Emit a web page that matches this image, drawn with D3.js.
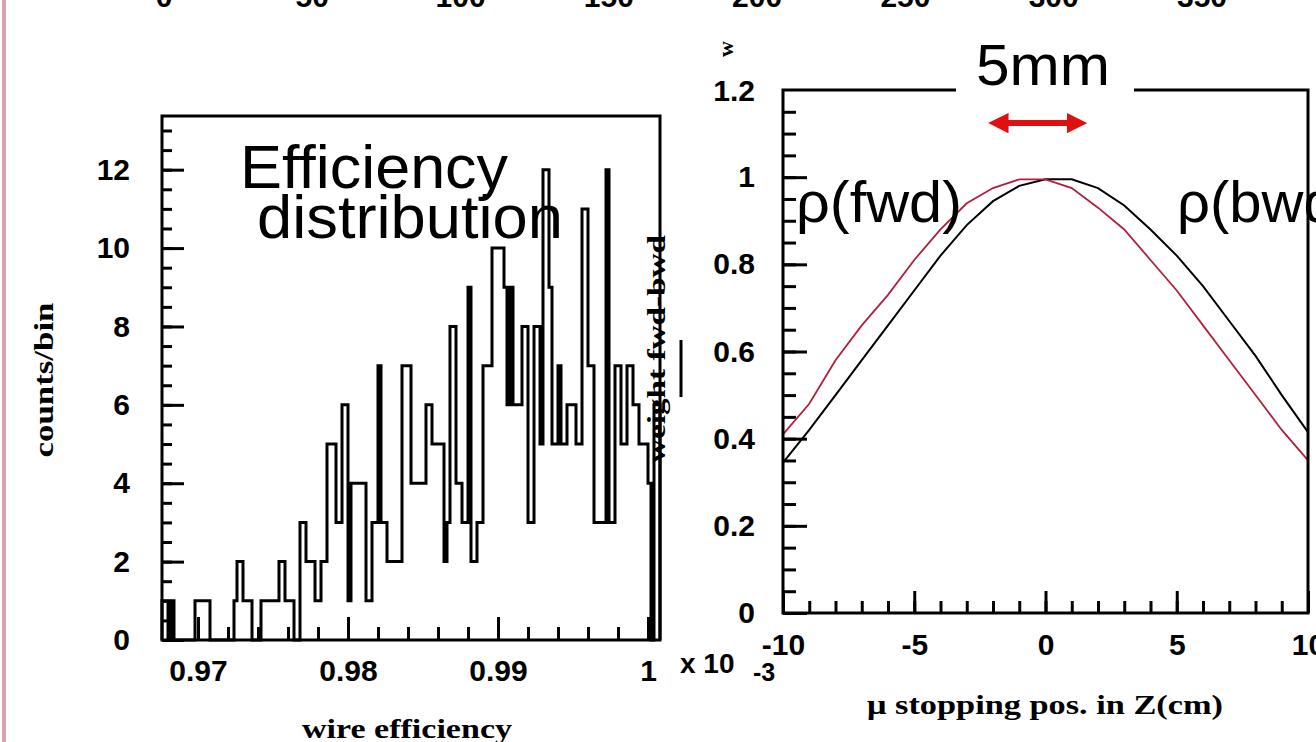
<!DOCTYPE html>
<html><head><meta charset="utf-8">
<script src="https://cdn.jsdelivr.net/npm/d3@7"></script>
<style>body{margin:0;background:#fff;} svg{display:block;}</style>
</head><body>
<svg id="c" width="1316" height="742"></svg>
<script>
// ---------- data ----------
const histStart = 0.9676;
const histBinWidth = 0.0002;
const histCounts = [
  1,1,0,1, 0,0,0,0,0,0,0, 1,1,1,1,1, 0,0,0,0,0,0,0,0,
  1,2,2,1,1,1, 0,0,0, 1,1,1,1,1,1, 2,2, 1,1,1, 0,0, 3,3, 2,2,2, 1,1, 2,2,
  5,5,5, 3,3, 6,6, 1, 4,4,4,4,4, 1,1, 3,3, 7, 3,3, 2,2,2,2,2, 7,7,7,
  4,4,4,4,4, 6,6, 5,5,5,5, 2, 3, 8,8, 4,4, 3,3, 9, 2,2, 3,3, 7,7,7,
  10,10,10,10, 9, 6, 9, 6,6,6, 8,8, 3,3, 8,8, 5, 12,12, 9, 5,5, 7, 5,5,
  6,6,6, 5,5, 11,11, 7,7, 3,3,3,3, 12, 3,3, 7,7, 5,5, 7,7, 6,6, 5,5,5, 4, 0, 6,6
];
const effTicks = [0.97, 0.98, 0.99, 1.0];
const effTickLabels = ["0.97", "0.98", "0.99", "1"];
const countTicks = [0, 2, 4, 6, 8, 10, 12];

const zPos   = [-10,-9,-8,-7,-6,-5,-4,-3,-2,-1,0,1,2,3,4,5,6,7,8,9,10];
const rhoFwd = [0.41,0.48,0.58,0.66,0.73,0.81,0.88,0.94,0.975,0.995,0.995,0.975,0.93,0.88,0.81,0.74,0.66,0.58,0.50,0.42,0.35];
const rhoBwd = [0.345,0.42,0.50,0.58,0.66,0.74,0.82,0.89,0.945,0.98,0.995,0.995,0.975,0.935,0.88,0.82,0.75,0.67,0.59,0.50,0.415];
const zTicks = [-10, -5, 0, 5, 10];
const zTickLabels = ["-10", "-5", "0", "5", "10"];
const rhoTicks = [0, 0.2, 0.4, 0.6, 0.8, 1.0, 1.2];
const rhoTickLabels = ["0", "0.2", "0.4", "0.6", "0.8", "1", "1.2"];
const topTicks = [0, 50, 100, 150, 200, 250, 300, 350];
const arrowSpan = [-2.1, 1.5];
const arrowRho = 1.124;

// ---------- setup ----------
const svg = d3.select("#c");
const SANS = "'Liberation Sans', Arial, sans-serif";
const SERIF = "'Liberation Serif', 'Times New Roman', serif";

// pink slide border
svg.append("rect").attr("x", 2).attr("y", 0).attr("width", 4).attr("height", 742).attr("fill", "#dba3ab");

// top cut-off axis labels (previous chart on the slide)
const xTop = d3.scaleLinear().domain([0, 350]).range([164, 1202]);
svg.append("g").selectAll("text").data(topTicks).join("text")
  .attr("x", d => xTop(d)).attr("y", 7)
  .attr("text-anchor", "middle").attr("font-family", SANS).attr("font-weight", "bold")
  .attr("font-size", 30).text(d => d);

// ---------- left: histogram ----------
const xEff = d3.scaleLinear().domain([histStart, histStart + histCounts.length * histBinWidth]).range([162, 660]);
const yCnt = d3.scaleLinear().domain([0, 13.37]).range([640, 116]);

const gL = svg.append("g");
gL.append("g").attr("transform", "translate(162,0)")
  .call(d3.axisLeft(yCnt).tickValues(d3.range(0, 13.01, 0.5)).tickSize(-10).tickFormat(""))
  .call(g => g.select(".domain").remove())
  .call(g => g.selectAll("line").attr("stroke", "#000").attr("stroke-width", 3));
gL.append("g").attr("transform", "translate(162,0)")
  .call(d3.axisLeft(yCnt).tickValues(countTicks).tickSize(-22).tickPadding(32).tickFormat(d => String(d)))
  .call(g => g.select(".domain").remove())
  .call(g => g.selectAll("line").attr("stroke", "#000").attr("stroke-width", 3))
  .call(g => g.selectAll("text").attr("font-family", SANS).attr("font-weight", "bold").attr("font-size", 30).attr("fill", "#000"));
gL.append("g").attr("transform", "translate(0,640)")
  .call(d3.axisBottom(xEff).tickValues(d3.range(0.968, 1.0005, 0.002)).tickSize(-13).tickFormat(""))
  .call(g => g.select(".domain").remove())
  .call(g => g.selectAll("line").attr("stroke", "#000").attr("stroke-width", 3));
gL.append("g").attr("transform", "translate(0,640)")
  .call(d3.axisBottom(xEff).tickValues(effTicks).tickSize(-23).tickPadding(20).tickFormat((d, i) => effTickLabels[i]))
  .call(g => g.select(".domain").remove())
  .call(g => g.selectAll("line").attr("stroke", "#000").attr("stroke-width", 3))
  .call(g => g.selectAll("text").attr("font-family", SANS).attr("font-weight", "bold").attr("font-size", 30).attr("fill", "#000"));

const histPts = [[histStart, 0]]
  .concat(histCounts.map((c, i) => [histStart + i * histBinWidth, c]))
  .concat([[histStart + histCounts.length * histBinWidth, 0]]);
gL.append("path").datum(histPts)
  .attr("d", d3.line().x(d => xEff(d[0])).y(d => yCnt(d[1])).curve(d3.curveStepAfter))
  .attr("fill", "none").attr("stroke", "#000").attr("stroke-width", 3);

gL.append("rect").attr("x", 162).attr("y", 116).attr("width", 498).attr("height", 524)
  .attr("fill", "none").attr("stroke", "#000").attr("stroke-width", 3);

gL.append("text").attr("x", 240).attr("y", 188).attr("font-family", SANS).attr("font-size", 61)
  .attr("textLength", 268).attr("lengthAdjust", "spacingAndGlyphs").text("Efficiency");
gL.append("text").attr("x", 257).attr("y", 238).attr("font-family", SANS).attr("font-size", 61)
  .attr("textLength", 306).attr("lengthAdjust", "spacingAndGlyphs").text("distribution");
gL.append("text").attr("transform", "translate(53,380) rotate(-90)").attr("text-anchor", "middle")
  .attr("font-family", SERIF).attr("font-weight", "bold").attr("font-size", 28)
  .attr("textLength", 155).attr("lengthAdjust", "spacingAndGlyphs").text("counts/bin");
gL.append("text").attr("x", 407).attr("y", 738).attr("text-anchor", "middle")
  .attr("font-family", SERIF).attr("font-weight", "bold").attr("font-size", 28)
  .attr("textLength", 210).attr("lengthAdjust", "spacingAndGlyphs").text("wire efficiency");
gL.append("text").attr("x", 680).attr("y", 673).attr("font-family", SANS).attr("font-weight", "bold").attr("font-size", 28).text("x 10");
gL.append("text").attr("x", 753).attr("y", 681).attr("font-family", SANS).attr("font-weight", "bold").attr("font-size", 25).text("-3");

// ---------- right: rho curves ----------
const xZ = d3.scaleLinear().domain([-10, 10]).range([783, 1308]);
const yRho = d3.scaleLinear().domain([0, 1.2]).range([613, 90]);
const gR = svg.append("g");

gR.append("g").attr("transform", "translate(783,0)")
  .call(d3.axisLeft(yRho).tickValues(d3.range(0, 1.16, 0.05)).tickSize(-13).tickFormat(""))
  .call(g => g.select(".domain").remove())
  .call(g => g.selectAll("line").attr("stroke", "#000").attr("stroke-width", 3));
gR.append("g").attr("transform", "translate(783,0)")
  .call(d3.axisLeft(yRho).tickValues(rhoTicks.slice(0, 6)).tickSize(-24).tickPadding(28).tickFormat((d, i) => rhoTickLabels[i]))
  .call(g => g.select(".domain").remove())
  .call(g => g.selectAll("line").attr("stroke", "#000").attr("stroke-width", 3))
  .call(g => g.selectAll("text").attr("font-family", SANS).attr("font-weight", "bold").attr("font-size", 30).attr("fill", "#000"));
gR.append("text").attr("x", 755).attr("y", yRho(1.2) + 11).attr("text-anchor", "end")
  .attr("font-family", SANS).attr("font-weight", "bold").attr("font-size", 30).text(rhoTickLabels[6]);
gR.append("g").attr("transform", "translate(0,613)")
  .call(d3.axisBottom(xZ).tickValues(d3.range(-9, 10, 1)).tickSize(-12).tickFormat(""))
  .call(g => g.select(".domain").remove())
  .call(g => g.selectAll("line").attr("stroke", "#000").attr("stroke-width", 3));
gR.append("g").attr("transform", "translate(0,613)")
  .call(d3.axisBottom(xZ).tickValues(zTicks).tickSize(-22).tickPadding(21).tickFormat((d, i) => zTickLabels[i]))
  .call(g => g.select(".domain").remove())
  .call(g => g.selectAll("line").attr("stroke", "#000").attr("stroke-width", 3))
  .call(g => g.selectAll("text").attr("font-family", SANS).attr("font-weight", "bold").attr("font-size", 30).attr("fill", "#000"));

const lineGen = vals => d3.line().x((d, i) => xZ(zPos[i])).y(d => yRho(d))(vals);
gR.append("path").attr("d", lineGen(rhoBwd)).attr("fill", "none").attr("stroke", "#000").attr("stroke-width", 2);
gR.append("path").attr("d", lineGen(rhoFwd)).attr("fill", "none").attr("stroke", "#b0203c").attr("stroke-width", 1.8);

gR.append("rect").attr("x", 783).attr("y", 90).attr("width", 525).attr("height", 523)
  .attr("fill", "none").attr("stroke", "#000").attr("stroke-width", 3);

// 5mm label with white box
gR.append("rect").attr("x", 956).attr("y", 36).attr("width", 178).attr("height", 62).attr("fill", "#fff");
gR.append("text").attr("x", 1043).attr("y", 85).attr("text-anchor", "middle").attr("font-family", SANS).attr("font-size", 58)
  .attr("textLength", 134).attr("lengthAdjust", "spacingAndGlyphs").text("5mm");

// red double arrow
const defs = svg.append("defs");
defs.append("marker").attr("id", "ah").attr("viewBox", "0 0 10 10").attr("refX", 4).attr("refY", 5)
  .attr("markerWidth", 3.4).attr("markerHeight", 3.4).attr("orient", "auto-start-reverse")
  .append("path").attr("d", "M0,0 L10,5 L0,10 z").attr("fill", "#e01010");
gR.append("line").attr("x1", xZ(arrowSpan[0]) + 10).attr("x2", xZ(arrowSpan[1]) - 10)
  .attr("y1", yRho(arrowRho)).attr("y2", yRho(arrowRho))
  .attr("stroke", "#e01010").attr("stroke-width", 6)
  .attr("marker-start", "url(#ah)").attr("marker-end", "url(#ah)");

gR.append("text").attr("x", 796).attr("y", 222).attr("font-family", SANS).attr("font-size", 58)
  .attr("textLength", 166).attr("lengthAdjust", "spacingAndGlyphs").text("ρ(fwd)");
gR.append("text").attr("x", 1177).attr("y", 222).attr("font-family", SANS).attr("font-size", 58).text("ρ(bwd)");

gR.append("text").attr("x", 1045).attr("y", 714).attr("text-anchor", "middle")
  .attr("font-family", SERIF).attr("font-weight", "bold").attr("font-size", 28)
  .attr("textLength", 356).attr("lengthAdjust", "spacingAndGlyphs").text("μ stopping pos. in Z(cm)");
gR.append("text").attr("transform", "translate(665,349) rotate(-90)").attr("text-anchor", "middle")
  .attr("font-family", SERIF).attr("font-weight", "bold").attr("font-size", 25)
  .attr("textLength", 228).attr("lengthAdjust", "spacingAndGlyphs").text("weight fwd-bwd");
gR.append("line").attr("x1", 681).attr("x2", 681).attr("y1", 340).attr("y2", 397)
  .attr("stroke", "#000").attr("stroke-width", 3);
gR.append("text").attr("transform", "translate(733,49) rotate(-90)").attr("text-anchor", "middle")
  .attr("font-family", SERIF).attr("font-weight", "bold").attr("font-size", 22).text("w");
</script>
</body></html>
